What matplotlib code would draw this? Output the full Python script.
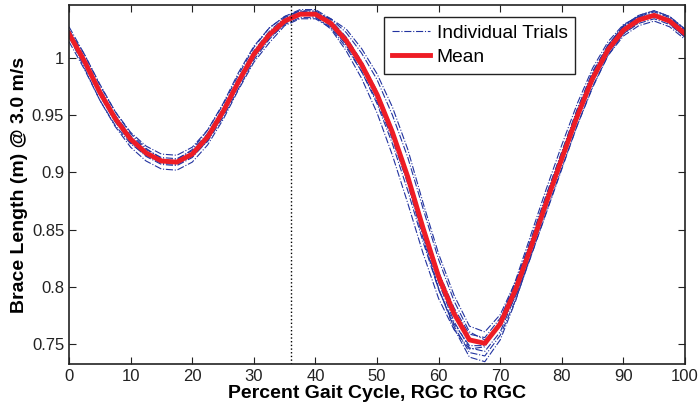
import numpy as np
import matplotlib
matplotlib.use('Agg')
import matplotlib.pyplot as plt

plt.rcParams['font.family'] = ['Liberation Sans', 'DejaVu Sans']

# percent gait cycle
gait = np.arange(0, 100.1, 2.5)

mean_len = [1.021, 0.997, 0.970, 0.947, 0.929, 0.917, 0.910, 0.909, 0.916, 0.931,
            0.953, 0.979, 1.003, 1.020, 1.032, 1.038, 1.038, 1.030, 1.015, 0.994,
            0.968, 0.935, 0.896, 0.851, 0.809, 0.777, 0.754, 0.751, 0.768, 0.798,
            0.835, 0.874, 0.912, 0.949, 0.982, 1.007, 1.024, 1.033, 1.037, 1.032,
            1.021]

trial_a = [1.027, 1.003, 0.976, 0.953, 0.935, 0.923, 0.916, 0.915, 0.922, 0.937,
           0.959, 0.985, 1.009, 1.026, 1.036, 1.042, 1.042, 1.034, 1.025, 1.008,
           0.986, 0.957, 0.920, 0.873, 0.829, 0.793, 0.766, 0.761, 0.776, 0.805,
           0.841, 0.880, 0.918, 0.955, 0.988, 1.011, 1.028, 1.037, 1.041, 1.036,
           1.025]
trial_b = [1.014, 0.990, 0.963, 0.940, 0.922, 0.910, 0.903, 0.902, 0.909, 0.924,
           0.946, 0.972, 0.996, 1.013, 1.028, 1.034, 1.034, 1.026, 1.009, 0.988,
           0.962, 0.929, 0.890, 0.842, 0.798, 0.766, 0.743, 0.740, 0.758, 0.789,
           0.827, 0.866, 0.904, 0.941, 0.974, 1.002, 1.019, 1.028, 1.032, 1.027,
           1.016]
trial_c = [1.019, 0.991, 0.963, 0.941, 0.925, 0.915, 0.910, 0.911, 0.920, 0.937,
           0.960, 0.987, 1.010, 1.026, 1.036, 1.041, 1.038, 1.028, 1.011, 0.988,
           0.960, 0.925, 0.884, 0.839, 0.798, 0.768, 0.749, 0.749, 0.770, 0.803,
           0.842, 0.881, 0.918, 0.955, 0.987, 1.011, 1.027, 1.035, 1.038, 1.030,
           1.018]
trial_d = [1.024, 1.003, 0.977, 0.953, 0.934, 0.921, 0.912, 0.909, 0.914, 0.927,
           0.948, 0.973, 0.998, 1.016, 1.030, 1.037, 1.039, 1.034, 1.022, 1.004,
           0.981, 0.950, 0.913, 0.868, 0.824, 0.788, 0.761, 0.754, 0.766, 0.792,
           0.827, 0.865, 0.903, 0.941, 0.975, 1.002, 1.021, 1.031, 1.037, 1.034,
           1.024]
trial_e = [1.024, 1.000, 0.973, 0.950, 0.932, 0.920, 0.913, 0.912, 0.919, 0.934,
           0.956, 0.982, 1.006, 1.023, 1.035, 1.041, 1.041, 1.033, 1.018, 0.997,
           0.971, 0.938, 0.899, 0.854, 0.813, 0.782, 0.759, 0.756, 0.773, 0.802,
           0.838, 0.877, 0.915, 0.952, 0.985, 1.010, 1.027, 1.036, 1.040, 1.035,
           1.024]
trial_f = [1.018, 0.994, 0.967, 0.944, 0.926, 0.914, 0.907, 0.906, 0.913, 0.928,
           0.950, 0.976, 1.000, 1.017, 1.029, 1.035, 1.035, 1.027, 1.012, 0.991,
           0.965, 0.932, 0.893, 0.848, 0.804, 0.770, 0.747, 0.744, 0.761, 0.793,
           0.832, 0.871, 0.909, 0.946, 0.979, 1.004, 1.021, 1.030, 1.034, 1.029,
           1.018]
trial_g = [1.021, 0.997, 0.970, 0.947, 0.929, 0.917, 0.910, 0.909, 0.916, 0.931,
           0.953, 0.979, 1.003, 1.020, 1.032, 1.038, 1.036, 1.025, 1.006, 0.982,
           0.952, 0.915, 0.873, 0.829, 0.790, 0.763, 0.746, 0.748, 0.771, 0.806,
           0.846, 0.886, 0.924, 0.960, 0.991, 1.014, 1.029, 1.036, 1.038, 1.030,
           1.018]
trial_h = [1.019, 0.995, 0.968, 0.945, 0.927, 0.915, 0.908, 0.907, 0.914, 0.929,
           0.951, 0.977, 1.001, 1.018, 1.034, 1.040, 1.040, 1.032, 1.015, 0.994,
           0.968, 0.935, 0.893, 0.845, 0.799, 0.764, 0.739, 0.735, 0.754, 0.788,
           0.829, 0.871, 0.911, 0.948, 0.981, 1.011, 1.028, 1.037, 1.041, 1.036,
           1.025]
trials = [trial_a, trial_b, trial_c, trial_d, trial_e, trial_f, trial_g, trial_h]

marker_pct = 36
y_ticks = [0.75, 0.8, 0.85, 0.9, 0.95, 1.0]
y_labels = ['0.75', '0.8', '0.85', '0.9', '0.95', '1']

fig = plt.figure(figsize=(6.98, 4.11), dpi=100)
ax = fig.add_axes([0.0989, 0.1144, 0.8825, 0.8734])

for i, tr in enumerate(trials):
    ax.plot(gait, tr, linestyle='-.', color='#2233a0', lw=0.8,
            label='Individual Trials' if i == 0 else None)
ax.plot(gait, mean_len, color='#ee1c25', lw=3.5, label='Mean',
        solid_joinstyle='round')
ax.axvline(marker_pct, color='k', ls=':', lw=1)

ax.set_xlim(0, 100)
ax.set_ylim(0.733, 1.046)
ax.set_xticks(np.arange(0, 101, 10))
ax.set_yticks(y_ticks)
ax.set_yticklabels(y_labels)
ax.tick_params(direction='in', top=True, right=True, labelsize=12,
               length=5, width=0.8, colors='#222222')
for s in ax.spines.values():
    s.set_linewidth(1.2)
    s.set_color('#222222')

ax.set_xlabel('Percent Gait Cycle, RGC to RGC', fontsize=14, fontweight='bold',
              labelpad=1)
ax.set_ylabel('Brace Length (m) @ 3.0 m/s', fontsize=14, fontweight='bold',
              labelpad=3)

leg = ax.legend(loc='upper right', bbox_to_anchor=(0.822, 0.967), fontsize=13.8,
                fancybox=False, framealpha=1, edgecolor='#222222',
                borderpad=0.4, handlelength=2.0, handletextpad=0.35,
                labelspacing=0.35, borderaxespad=0)
leg.get_frame().set_linewidth(1)

fig.savefig('out.png', dpi=100)
